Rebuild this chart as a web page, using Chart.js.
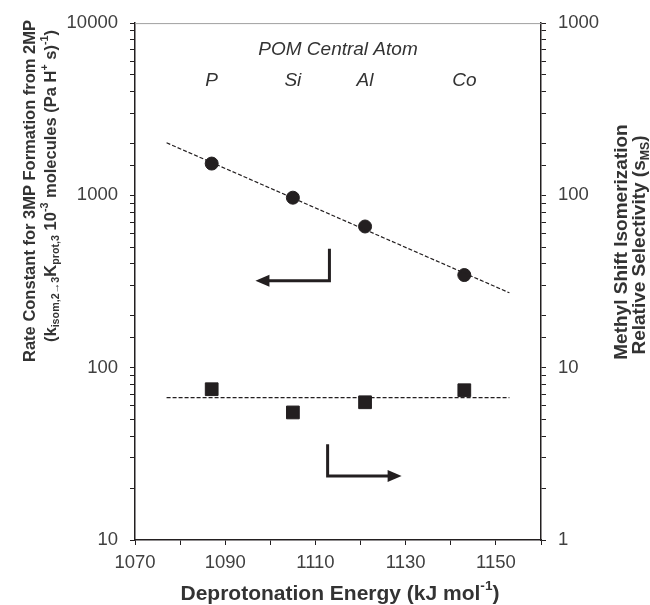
<!DOCTYPE html>
<html>
<head>
<meta charset="utf-8">
<script src="https://cdn.jsdelivr.net/npm/chart.js@4/dist/chart.umd.min.js"></script>
<style>
  body { margin: 0; background: #fff; }
  #wrap { width: 650px; height: 605px; }
</style>
</head>
<body>
<div id="wrap"><canvas id="chart"></canvas></div>
<script>
// POM central atoms and their deprotonation energies (kJ/mol)
var atoms = ["P", "Si", "Al", "Co"];
var deprotEnergy = [1087, 1105, 1121, 1143];

// rate constant (left axis) and methyl shift selectivity (right axis)
var rateConst = [1530, 970, 660, 345];
var selectivity = [7.5, 5.5, 6.3, 7.4];

// dashed trend lines
var fitX = [1077, 1153];
var rateFit = [2020, 272];
var selFit = [6.7, 6.7];

// arrows pointing to their axis (corner path, in data units)
var leftArrowX = [1113.1, 1113.1, 1096.7];
var leftArrowY = [490, 320, 320];
var rightArrowX = [1112.7, 1112.7, 1129.1];
var rightArrowY = [3.6, 2.35, 2.35];

// annotation positions
var atomLabelY = 4600;
var headerX = 1115;
var headerY = 7050;

var leftTicks = [10, 100, 1000, 10000];
var rightTicks = [1, 10, 100, 1000];

function pts(xs, ys) {
  return xs.map(function (x, i) { return { x: x, y: ys[i] }; });
}

// draws text with sub/superscript pieces, centred at (0,0) of current transform
function richText(ctx, parts, size, bold) {
  var w = 0;
  var fam = "'Liberation Sans', Arial, sans-serif";
  var b = bold ? "bold " : "";
  parts.forEach(function (p) {
    var s = p[1] ? size * 0.65 : size;
    ctx.font = b + s + "px " + fam;
    p.w = ctx.measureText(p[0]).width;
    w += p.w;
  });
  var x = -w / 2;
  ctx.textBaseline = "middle";
  ctx.textAlign = "left";
  parts.forEach(function (p) {
    var s = p[1] ? size * 0.65 : size;
    ctx.font = b + s + "px " + fam;
    var dy = p[1] == "sub" ? size * 0.3 : p[1] == "sup" ? -size * 0.35 : 0;
    ctx.fillText(p[0], x, dy);
    x += p.w;
  });
}

function arrow(ctx, xs, ys, xScale, yScale) {
  var px = xs.map(function (v) { return xScale.getPixelForValue(v); });
  var py = ys.map(function (v) { return yScale.getPixelForValue(v); });
  var n = px.length - 1;
  var dir = px[n] > px[n - 1] ? 1 : -1;
  ctx.strokeStyle = "#231f20";
  ctx.fillStyle = "#231f20";
  ctx.lineWidth = 3;
  ctx.beginPath();
  ctx.moveTo(px[0], py[0]);
  for (var i = 1; i < n; i++) ctx.lineTo(px[i], py[i]);
  ctx.lineTo(px[n] - dir * 12, py[n]);
  ctx.stroke();
  ctx.beginPath();
  ctx.moveTo(px[n], py[n]);
  ctx.lineTo(px[n] - dir * 14, py[n] - 6);
  ctx.lineTo(px[n] - dir * 14, py[n] + 6);
  ctx.closePath();
  ctx.fill();
}

var extras = {
  id: "extras",
  afterDraw: function (chart) {
    var ctx = chart.ctx;
    var a = chart.chartArea;
    var x = chart.scales.x, y = chart.scales.y, y2 = chart.scales.y2;
    ctx.save();
    // top frame line
    ctx.strokeStyle = "#a0a0a0";
    ctx.lineWidth = 1;
    ctx.beginPath();
    ctx.moveTo(a.left, a.top + 0.5);
    ctx.lineTo(a.right, a.top + 0.5);
    ctx.stroke();

    arrow(ctx, leftArrowX, leftArrowY, x, y);
    arrow(ctx, rightArrowX, rightArrowY, x, y2);

    // atom labels
    ctx.fillStyle = "#333";
    ctx.font = "italic 19px 'Liberation Sans', Arial, sans-serif";
    ctx.textAlign = "center";
    ctx.textBaseline = "middle";
    ctx.fillText("POM Central Atom", x.getPixelForValue(headerX), y.getPixelForValue(headerY));
    atoms.forEach(function (t, i) {
      ctx.fillText(t, x.getPixelForValue(deprotEnergy[i]), y.getPixelForValue(atomLabelY));
    });

    // axis titles
    ctx.fillStyle = "#333";
    ctx.save();
    ctx.translate(340, 594);
    richText(ctx, [["Deprotonation Energy (kJ mol"], ["-1", "sup"], [")"]], 21, true);
    ctx.restore();

    ctx.save();
    ctx.translate(30, 191);
    ctx.rotate(-Math.PI / 2);
    richText(ctx, [["Rate Constant for 3MP Formation from 2MP"]], 16.5, true);
    ctx.restore();

    ctx.save();
    ctx.translate(51, 186);
    ctx.rotate(-Math.PI / 2);
    richText(ctx, [["(k"], ["isom,2\u21923", "sub"], ["K"], ["prot,3", "sub"], [" 10"], ["-3", "sup"],
      [" molecules (Pa H"], ["+", "sup"], [" s)"], ["-1", "sup"], [")"]], 16.5, true);
    ctx.restore();

    ctx.save();
    ctx.translate(622, 242);
    ctx.rotate(-Math.PI / 2);
    richText(ctx, [["Methyl Shift Isomerization"]], 19, true);
    ctx.restore();

    ctx.save();
    ctx.translate(640, 245);
    ctx.rotate(-Math.PI / 2);
    richText(ctx, [["Relative Selectivity (s"], ["MS", "sub"], [")"]], 19, true);
    ctx.restore();

    ctx.restore();
  }
};

var tickFont = { family: "'Liberation Sans', Arial, sans-serif", size: 18.5 };

new Chart(document.getElementById("chart"), {
  type: "scatter",
  data: {
    datasets: [
      {
        label: "rate fit",
        data: pts(fitX, rateFit),
        showLine: true,
        borderColor: "#231f20",
        borderWidth: 1.2,
        borderDash: [4, 2],
        pointRadius: 0,
        yAxisID: "y"
      },
      {
        label: "selectivity fit",
        data: pts(fitX, selFit),
        showLine: true,
        borderColor: "#231f20",
        borderWidth: 1.2,
        borderDash: [4, 2],
        pointRadius: 0,
        yAxisID: "y2"
      },
      {
        label: "Rate constant",
        data: pts(deprotEnergy, rateConst),
        pointStyle: "circle",
        pointRadius: 6.5,
        backgroundColor: "#231f20",
        borderColor: "#231f20",
        yAxisID: "y"
      },
      {
        label: "Selectivity",
        data: pts(deprotEnergy, selectivity),
        pointStyle: "rect",
        pointRadius: 9,
        backgroundColor: "#231f20",
        borderColor: "#231f20",
        yAxisID: "y2"
      }
    ]
  },
  options: {
    responsive: true,
    maintainAspectRatio: false,
    animation: false,
    layout: { padding: { top: 22, left: 0, right: 0, bottom: 0 } },
    plugins: {
      legend: { display: false },
      tooltip: { enabled: false }
    },
    scales: {
      x: {
        type: "linear",
        min: 1070,
        max: 1160,
        grid: { drawOnChartArea: false, color: "#231f20", tickLength: 5 },
        border: { color: "#231f20", width: 1.5 },
        ticks: {
          stepSize: 10,
          autoSkip: false,
          maxRotation: 0,
          padding: 7,
          color: "#404040",
          font: tickFont,
          callback: function (v) { return (v - 1070) % 20 == 0 ? v : ""; }
        },
        afterFit: function (s) { s.height = 65; }
      },
      y: {
        type: "logarithmic",
        position: "left",
        min: 10,
        max: 10000,
        grid: { drawOnChartArea: false, color: "#231f20", tickLength: 5 },
        border: { color: "#231f20", width: 1.5 },
        ticks: {
          autoSkip: false,
          padding: 12,
          color: "#404040",
          font: tickFont,
          callback: function (v) { return leftTicks.indexOf(v) >= 0 ? v : ""; }
        },
        afterFit: function (s) { s.width = 135; }
      },
      y2: {
        type: "logarithmic",
        position: "right",
        min: 1,
        max: 1000,
        grid: { drawOnChartArea: false, color: "#231f20", tickLength: 5 },
        border: { color: "#231f20", width: 1.5 },
        ticks: {
          autoSkip: false,
          padding: 12,
          color: "#404040",
          font: tickFont,
          callback: function (v) { return rightTicks.indexOf(v) >= 0 ? v : ""; }
        },
        afterFit: function (s) { s.width = 109; }
      }
    }
  },
  plugins: [extras]
});
</script>
</body>
</html>
